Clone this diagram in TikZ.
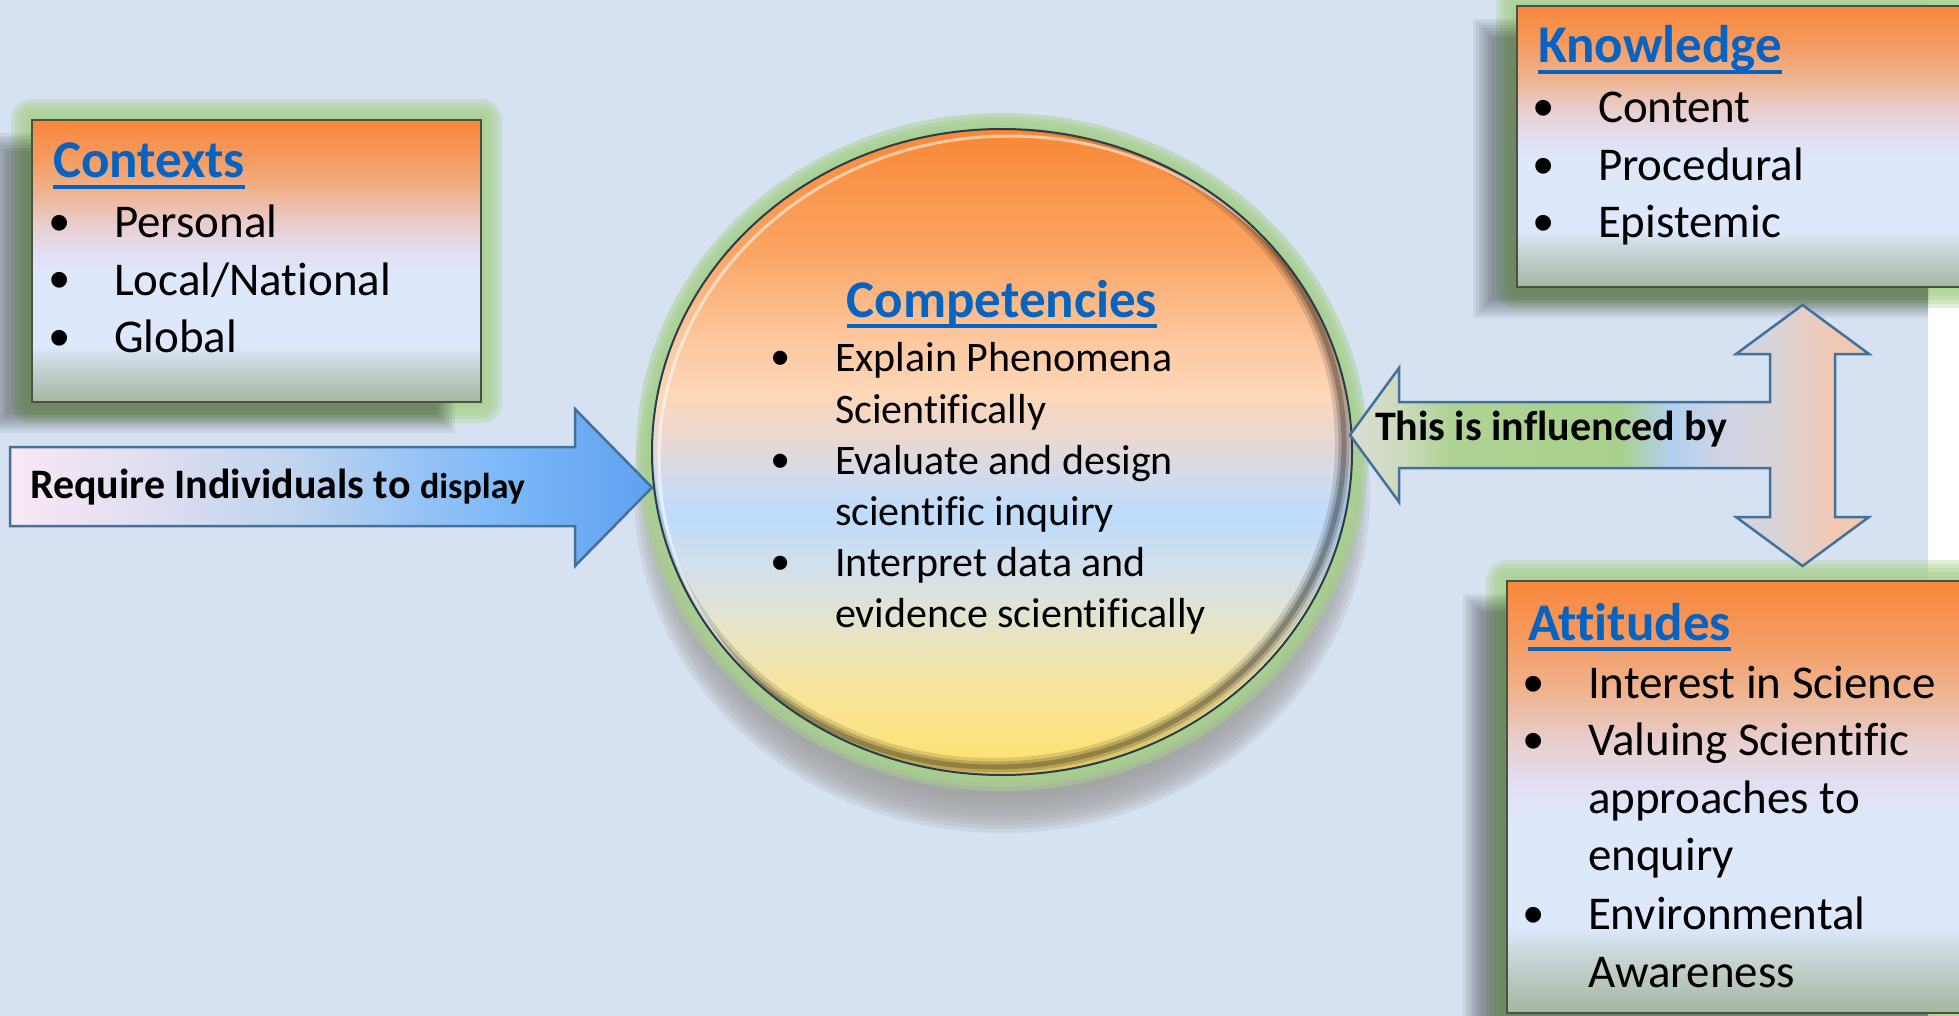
\documentclass[tikz,border=0pt]{standalone}
\usepackage{fontspec}
\setmainfont{Carlito}[Ligatures={TeX,NoCommon}]
\newfontfamily\bulletfont{Liberation Sans}
\usetikzlibrary{calc}

\definecolor{bgblue}{RGB}{214,226,241}
\definecolor{glowgreen}{RGB}{169,209,142}
\definecolor{titleblue}{RGB}{5,99,193}
\definecolor{arrowline}{RGB}{65,113,156}
\definecolor{boxline}{RGB}{70,82,66}
\definecolor{circline}{RGB}{40,60,80}
\definecolor{shadowgray}{RGB}{160,160,160}
% box gradient
\definecolor{bxA}{RGB}{249,136,60}
\definecolor{bxB}{RGB}{246,152,92}
\definecolor{bxC}{RGB}{239,178,140}
\definecolor{bxD}{RGB}{232,208,210}
\definecolor{bxE}{RGB}{226,224,245}
\definecolor{bxF}{RGB}{221,232,250}
\definecolor{bxG}{RGB}{221,232,252}
\definecolor{bxH}{RGB}{200,212,215}
\definecolor{bxI}{RGB}{165,182,160}
% circle gradient
\definecolor{ciA}{RGB}{248,135,55}
\definecolor{ciB}{RGB}{250,142,62}
\definecolor{ciC}{RGB}{251,165,100}
\definecolor{ciD}{RGB}{253,200,160}
\definecolor{ciE}{RGB}{253,215,185}
\definecolor{ciF}{RGB}{235,215,210}
\definecolor{ciG}{RGB}{205,220,240}
\definecolor{ciH}{RGB}{190,220,252}
\definecolor{ciI}{RGB}{215,225,230}
\definecolor{ciJ}{RGB}{230,228,200}
\definecolor{ciK}{RGB}{248,228,150}
\definecolor{ciL}{RGB}{255,225,110}
% influence arrow gradient
\definecolor{inA}{RGB}{218,222,210}
\definecolor{inB}{RGB}{205,218,190}
\definecolor{inC}{RGB}{175,210,148}
\definecolor{inD}{RGB}{168,208,140}
\definecolor{inE}{RGB}{175,208,200}
\definecolor{inF}{RGB}{178,208,240}
\definecolor{inG}{RGB}{205,212,228}
\definecolor{inH}{RGB}{215,212,218}
\definecolor{inI}{RGB}{228,206,200}
\definecolor{inJ}{RGB}{242,200,178}
\definecolor{inK}{RGB}{242,200,175}
% require arrow gradient
\definecolor{rqA}{RGB}{250,232,245}
\definecolor{rqB}{RGB}{222,222,240}
\definecolor{rqC}{RGB}{190,212,238}
\definecolor{rqD}{RGB}{150,195,245}
\definecolor{rqE}{RGB}{125,185,248}
\definecolor{rqF}{RGB}{95,160,240}

\pgfdeclareverticalshading{boxshade}{100bp}{%
 color(0bp)=(bxI); color(25bp)=(bxI); color(31.5bp)=(bxH); color(35bp)=(bxG);
 color(47.5bp)=(bxF); color(51bp)=(bxE); color(56bp)=(bxD); color(62.5bp)=(bxC);
 color(69bp)=(bxB); color(75bp)=(bxA); color(100bp)=(bxA)}
\pgfdeclareverticalshading{circshade}{100bp}{%
 color(0bp)=(ciL); color(25bp)=(ciL); color(31bp)=(ciK); color(36.5bp)=(ciJ);
 color(40bp)=(ciI); color(45bp)=(ciH); color(47.5bp)=(ciG); color(51bp)=(ciF);
 color(54.5bp)=(ciE); color(58.5bp)=(ciD); color(65.5bp)=(ciC); color(73bp)=(ciB);
 color(75bp)=(ciA); color(100bp)=(ciA)}
\pgfdeclarehorizontalshading{inflshade}{100bp}{%
 color(0bp)=(inA); color(25bp)=(inA); color(29.8bp)=(inB); color(34.6bp)=(inC);
 color(51bp)=(inD); color(53.9bp)=(inE); color(55.9bp)=(inF); color(60.7bp)=(inG);
 color(65.5bp)=(inH); color(68.4bp)=(inI); color(71.7bp)=(inJ); color(75bp)=(inK);
 color(100bp)=(inK)}
\pgfdeclarehorizontalshading{reqshade}{100bp}{%
 color(0bp)=(rqA); color(25bp)=(rqA); color(35.9bp)=(rqB); color(47.6bp)=(rqC);
 color(56.9bp)=(rqD); color(63.2bp)=(rqE); color(75bp)=(rqF); color(100bp)=(rqF)}

\tikzset{
 ttl/.style={inner sep=0pt, outer sep=0pt, anchor=base west, text=titleblue, font=\fontsize{53}{64}\selectfont\bfseries},
 itm/.style={inner sep=0pt, outer sep=0pt, anchor=base west, font=\fontsize{47}{57}\selectfont},
 bul/.style={inner sep=0pt, outer sep=0pt, anchor=base, yshift=-5pt, font=\bulletfont\fontsize{58}{66}\selectfont},
 citm/.style={inner sep=0pt, outer sep=0pt, anchor=base west, font=\fontsize{42}{51}\selectfont},
 cbul/.style={inner sep=0pt, outer sep=0pt, anchor=base, yshift=-4pt, font=\bulletfont\fontsize{52}{60}\selectfont},
 ulin/.style={draw=titleblue, line width=3.5pt},
 arrtxt/.style={inner sep=0pt, outer sep=0pt, anchor=base west, font=\fontsize{42}{50}\selectfont\bfseries},
 glowline/.style={draw=glowgreen, opacity=.33, line join=round},
 boxfill/.style={shading=boxshade, draw=boxline, line width=2pt},
 blockarrow/.style={draw=arrowline, line width=2.5pt, line join=miter},
}

\begin{document}
\begin{tikzpicture}[x=1pt,y=-1pt]
\useasboundingbox (0,0) rectangle (1959,1016);
\clip (0,0) rectangle (1959,1016);
\fill[white] (0,0) rectangle (1959,1016);
\fill[bgblue] (0,0) rectangle (1928,1016);

% ---------- glows of the boxes ----------
\foreach \w in {42,34,26,18,10}{
  \draw[glowline, opacity=.34, line width=\w pt] (32,120) rectangle (481,402);
  \draw[glowline, opacity=.34, line width=\w pt] (1517,6) rectangle (1995,287);
  \draw[glowline, opacity=.34, line width=\w pt] (1507,581) rectangle (1995,1013);
}
% ---------- shadows of the boxes ----------
\begin{scope}
\clip (0,0) rectangle (1928,1016);
\foreach \d in {0,3,...,18}{
  \fill[black, opacity=.06] (-12+\d,133+\d) rectangle (455-\d,433-\d);
  \fill[black, opacity=.06] (1473+\d,19+\d) rectangle (1964-\d,318-\d);
  \fill[black, opacity=.06] (1463+\d,594+\d) rectangle (1964-\d,1044-\d);
}
\end{scope}
% ---------- boxes ----------
\shadedraw[boxfill] (32,120) rectangle (481,402);
\shadedraw[boxfill] (1517,6) rectangle (1995,287);
\shadedraw[boxfill] (1507,581) rectangle (1995,1013);

% ---------- circle ----------
\foreach \d in {0,4,...,36}{
  \fill[shadowgray, opacity=.2] (1002,492) ellipse [x radius=368-\d, y radius=341-\d];
}
\foreach \w in {32,24,16,8}{
  \draw[glowline, opacity=.5, line width=\w pt] (1002,452) ellipse [x radius=350, y radius=323];
}
\shade[shading=circshade] (1002,452) ellipse [x radius=350, y radius=323];
\begin{scope}
  \clip (1002,452) ellipse [x radius=350, y radius=323];
  \foreach \w/\o in {18/.12,11/.16,5/.22}{
    \draw[black, opacity=\o, line width=\w pt] (994,444) ellipse [x radius=350, y radius=323];
  }
  \draw[white, opacity=.55, line width=3pt] (1009,459) ellipse [x radius=350, y radius=323];
\end{scope}
\draw[circline, line width=2pt] (1002,452) ellipse [x radius=350, y radius=323];

% ---------- block arrows ----------
\shadedraw[blockarrow, shading=reqshade]
  (10,447) -- (575,447) -- (575,409) -- (652,487.5) -- (575,566) -- (575,526) -- (10,526) -- cycle;
\shadedraw[blockarrow, shading=inflshade]
  (1802.5,305) -- (1869,354) -- (1835,354) -- (1835,517) -- (1869,517) -- (1802.5,566)
  -- (1736,517) -- (1770,517) -- (1770,468) -- (1399,468) -- (1399,502) -- (1350,435)
  -- (1399,368) -- (1399,402) -- (1770,402) -- (1770,354) -- (1736,354) -- cycle;

% ---------- Contexts ----------
\node[ttl] (ctxT) at (53,178) {Contexts};
\draw[ulin] ([yshift=-9pt]ctxT.base west) -- ([yshift=-9pt]ctxT.base east);
\node[bul] (ctxB1) at (60,238) {•};
\node[itm] (ctx1) at (114,238) {Personal};
\node[bul] (ctxB2) at (60,295) {•};
\node[itm] (ctx2) at (114,295) {Local/National};
\node[bul] (ctxB3) at (60,352) {•};
\node[itm] (ctx3) at (114,352) {Global};

% ---------- Knowledge ----------
\node[ttl] (knwT) at (1538,63) {Knowledge};
\draw[ulin] ([yshift=-9pt]knwT.base west) -- ([yshift=-9pt]knwT.base east);
\node[bul] (knwB1) at (1544,123) {•};
\node[itm] (knw1) at (1598,123) {Content};
\node[bul] (knwB2) at (1544,181) {•};
\node[itm] (knw2) at (1598,181) {Procedural};
\node[bul] (knwB3) at (1544,238) {•};
\node[itm] (knw3) at (1598,238) {Epistemic};

% ---------- Attitudes ----------
\node[ttl] (attT) at (1528,640) {Attitudes};
\draw[ulin] ([yshift=-9pt]attT.base west) -- ([yshift=-9pt]attT.base east);
\node[bul] (attB1) at (1534,698) {•};
\node[itm] (att1) at (1588,698) {Interest in Science};
\node[bul] (attB2) at (1534,755) {•};
\node[itm] (att2) at (1588,755) {Valuing Scientific};
\node[itm] (att2b) at (1588,813) {approaches to};
\node[itm] (att2c) at (1588,870) {enquiry};
\node[bul] (attB3) at (1534,929) {•};
\node[itm] (att3) at (1588,929) {Environmental};
\node[itm] (att3b) at (1588,987) {Awareness};

% ---------- Competencies ----------
\node[ttl, anchor=base] (cmpT) at (1002,317) {Competencies};
\draw[ulin] ([yshift=-9pt]cmpT.base west) -- ([yshift=-9pt]cmpT.base east);
\node[cbul] (cmpB1) at (781,371) {•};
\node[citm] (cmp1) at (835,371) {Explain Phenomena};
\node[citm] (cmp1b) at (835,423) {Scientifically};
\node[cbul] (cmpB2) at (781,474) {•};
\node[citm] (cmp2) at (835,474) {Evaluate and design};
\node[citm] (cmp2b) at (835,525) {scientific inquiry};
\node[cbul] (cmpB3) at (781,576) {•};
\node[citm] (cmp3) at (835,576) {Interpret data and};
\node[citm] (cmp3b) at (835,627) {evidence scientifically};

% ---------- arrow texts ----------
\node[arrtxt] (reqtxt) at (30,498) {Require Individuals to {\fontsize{36}{43}\selectfont display}};
\node[arrtxt] (infltxt) at (1375,440) {This is influenced by};
\end{tikzpicture}
\end{document}
